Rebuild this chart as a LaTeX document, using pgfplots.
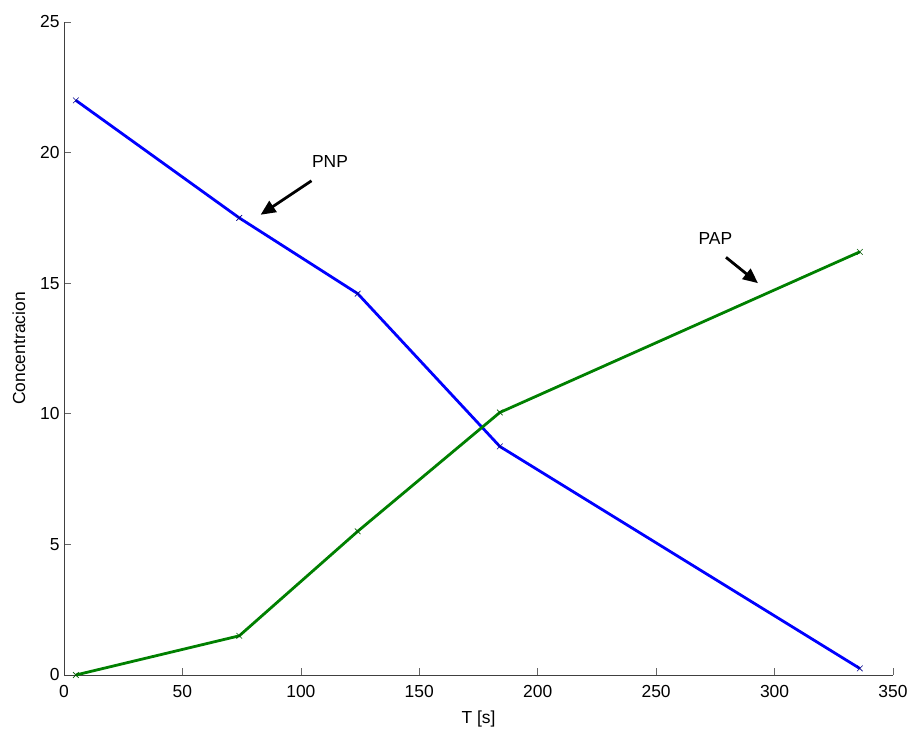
\documentclass[border=0pt]{standalone}
\usepackage{pgfplots}
\pgfplotsset{compat=1.18}
\usepackage{fontspec}
\setmainfont{Liberation Sans}
\usetikzlibrary{arrows.meta}
\definecolor{mgreen}{rgb}{0,0.5,0}
\begin{document}
\begin{tikzpicture}
\begin{axis}[
  name=ax,
  scale only axis,
  width=829bp, height=653bp,
  xmin=0, xmax=350, ymin=0, ymax=25,
  xtick={0,50,...,350}, ytick={0,5,...,25},
  axis x line*=bottom, axis y line*=left,
  axis line style={line width=0.7pt, color=black!75},
  tick style={line width=0.7pt, color=black!60},
  tick align=inside,
  major tick length=7bp,
  /pgf/number format/assume math mode=true,
  tick label style={font=\fontsize{17.5}{20}\selectfont},
  label style={font=\fontsize{17.5}{20}\selectfont},
  xticklabel style={yshift=-7bp},
  yticklabel style={xshift=-1bp},
  xlabel={T [s]}, ylabel={Concentracion},
  xlabel style={yshift=-6bp},
  ylabel style={yshift=8bp},
  clip=false,
]
\addplot[color=blue, line width=2.8pt, mark=x, mark size=4pt,
  mark options={line width=0.6pt, color=blue!55!black}] coordinates {
  (5,22) (74,17.5) (124,14.6) (184,8.75) (336,0.25)};
\addplot[color=mgreen, line width=2.8pt, mark=x, mark size=4pt,
  mark options={line width=0.6pt, color=mgreen!70!black}] coordinates {
  (5,0) (74,1.5) (124,5.5) (184,10.05) (336,16.2)};
\node[font=\fontsize{17.5}{20}\selectfont] at (axis cs:112.3,19.64) {PNP};
\node[font=\fontsize{17.5}{20}\selectfont] at (axis cs:275,16.73) {PAP};
\draw[line width=2.8pt, -{Triangle[length=15bp,width=13bp]}] (axis cs:104.5,18.92) -- (axis cs:83,17.62);
\draw[line width=2.8pt, -{Triangle[length=15bp,width=13bp]}] (axis cs:279.5,15.99) -- (axis cs:293,15.0);
\end{axis}
\path[use as bounding box] ([xshift=-64bp,yshift=-55bp]ax.south west) rectangle ([xshift=20bp,yshift=22bp]ax.north east);
\end{tikzpicture}
\end{document}
